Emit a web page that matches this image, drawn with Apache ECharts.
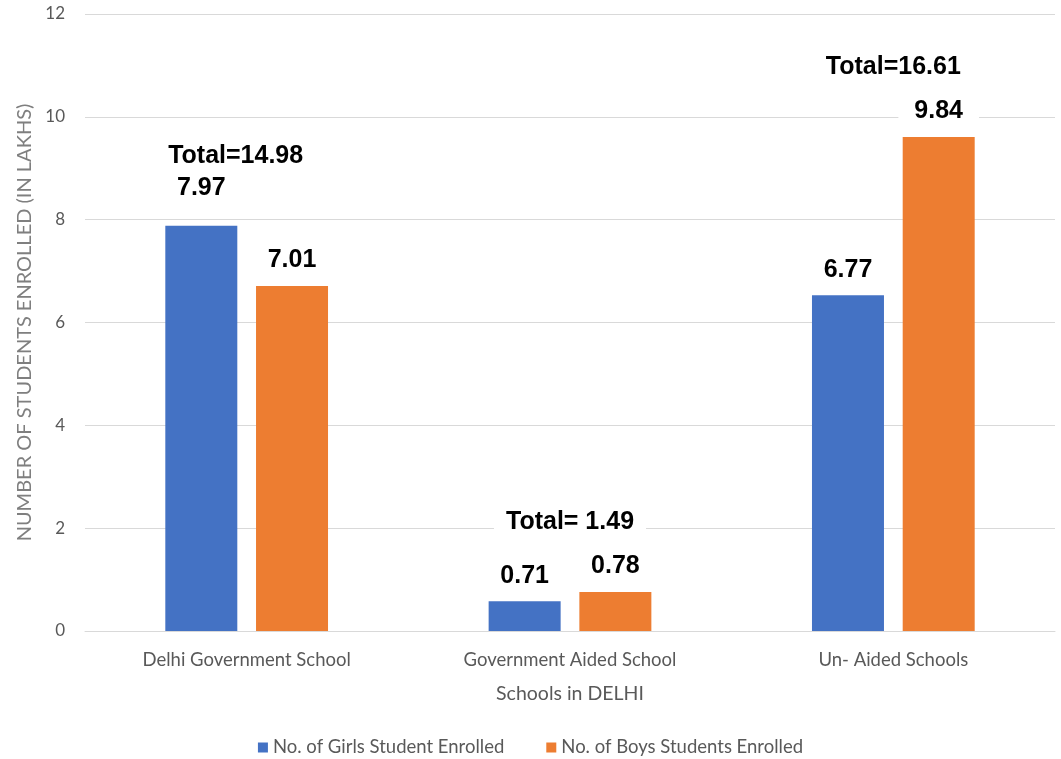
<!DOCTYPE html>
<html>
<head>
<meta charset="utf-8">
<script src="https://cdn.jsdelivr.net/npm/echarts@6/dist/echarts.min.js"></script>
<style>
html,body{margin:0;padding:0;background:#fff;}
#chart{width:1061px;height:759px;}
</style>
</head>
<body>
<div id="chart"></div>
<script>
// ---- data ----
var categories = ['Delhi Government School', 'Government Aided School', 'Un- Aided Schools'];
var girlsValues = [7.88, 0.58, 6.53];
var boysValues = [6.71, 0.76, 9.61];
var girlsLabels = ['7.97', '0.71', '6.77'];
var boysLabels = ['7.01', '0.78', '9.84'];
var totalLabels = ['Total=14.98', 'Total= 1.49', 'Total=16.61'];
var yTicks = [0, 2, 4, 6, 8, 10, 12];
var seriesNames = ['No. of Girls Student Enrolled', 'No. of Boys Students Enrolled'];

var chart = echarts.init(document.getElementById('chart'));
var uiFont = 'Lato';
var labelStyle = {
  show: true,
  position: 'top',
  distance: 10,
  fontFamily: 'Liberation Sans, Arial',
  fontWeight: 'bold',
  fontSize: 25,
  color: '#000',
  backgroundColor: '#fff',
  padding: [3, 16, 3, 16]
};
function mkData(vals, labels, extra) {
  return vals.map(function (v, i) {
    var lab = { formatter: labels[i] };
    if (extra && extra[i]) lab.distance = extra[i];
    return { value: v, label: lab };
  });
}
var totalData = categories.map(function (c, i) {
  return [i, Math.max(girlsValues[i], boysValues[i]), totalLabels[i]];
});

chart.setOption({
  animation: false,
  color: ['#4472C4', '#ED7D31'],
  grid: { left: 85, right: 6, top: 14, bottom: 128, containLabel: false },
  legend: {
    data: seriesNames,
    bottom: -3,
    left: 'center',
    itemWidth: 10,
    itemHeight: 10,
    itemGap: 42,
    icon: 'rect',
    textStyle: { fontFamily: uiFont, fontSize: 18.5, color: '#595959' }
  },
  xAxis: {
    type: 'category',
    data: categories,
    name: 'Schools in DELHI',
    nameLocation: 'middle',
    nameGap: 53,
    nameTextStyle: { fontFamily: uiFont, fontSize: 19.5, color: '#595959' },
    axisLine: { lineStyle: { color: '#d9d9d9' } },
    axisTick: { show: false },
    axisLabel: { fontFamily: uiFont, fontSize: 18.5, color: '#595959', margin: 20 }
  },
  yAxis: {
    type: 'value',
    min: yTicks[0],
    max: yTicks[yTicks.length - 1],
    interval: yTicks[1] - yTicks[0],
    name: 'NUMBER OF STUDENTS ENROLLED (IN LAKHS)',
    nameLocation: 'middle',
    nameGap: 45,
    nameTextStyle: { fontFamily: uiFont, fontSize: 20, color: '#7f7f7f' },
    axisLine: { show: false },
    axisTick: { show: false },
    splitLine: { lineStyle: { color: '#d9d9d9', width: 1 } },
    axisLabel: { fontFamily: uiFont, fontSize: 17, color: '#595959', margin: 20 }
  },
  series: [
    {
      name: seriesNames[0],
      type: 'bar',
      barWidth: 72,
      barGap: '26%',
      data: mkData(girlsValues, girlsLabels, [22, 0, 0]),
      label: labelStyle
    },
    {
      name: seriesNames[1],
      type: 'bar',
      barWidth: 72,
      barGap: '26%',
      data: mkData(boysValues, boysLabels),
      label: labelStyle
    },
    {
      name: 'Total',
      type: 'custom',
      data: totalData,
      z: 10,
      renderItem: function (params, api) {
        var p = api.coord([api.value(0), api.value(1)]);
        return {
          type: 'text',
          x: p[0] - (params.dataIndex === 0 ? 11 : 0),
          y: p[1] - 70,
          style: {
            text: totalLabels[params.dataIndex],
            fill: '#000',
            font: 'bold 25px "Liberation Sans", Arial',
            align: 'center',
            verticalAlign: 'middle',
            backgroundColor: '#fff',
            padding: [3, 12, 3, 12]
          }
        };
      }
    }
  ]
});
</script>
</body>
</html>
